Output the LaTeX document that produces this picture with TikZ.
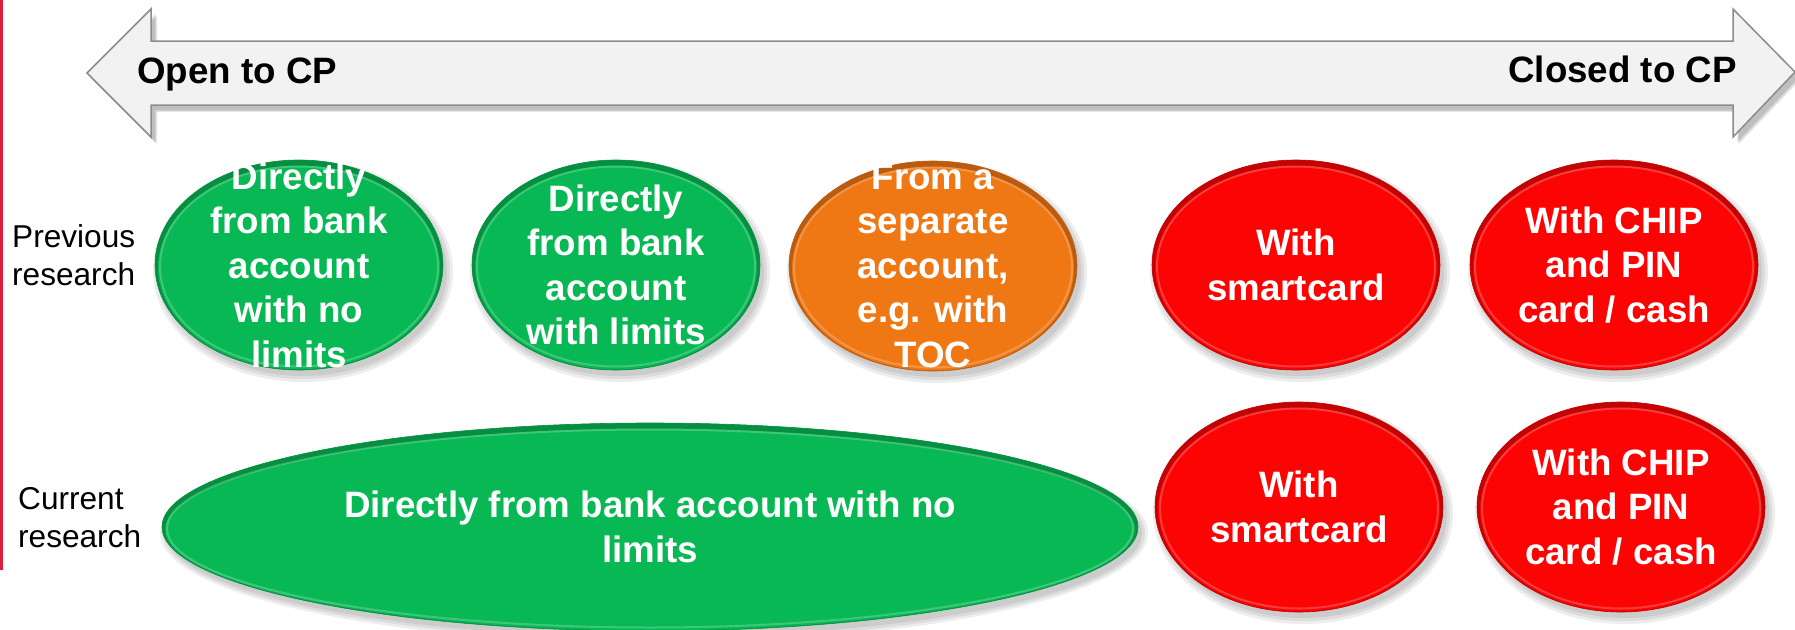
\documentclass[tikz,border=0pt]{standalone}
\usepackage{fontspec}
\setmainfont{Liberation Sans}
\usetikzlibrary{shapes.geometric}
\definecolor{bgreen}{RGB}{8,184,84}
\definecolor{borange}{RGB}{240,120,20}
\definecolor{bred}{RGB}{252,4,4}
\definecolor{sidered}{RGB}{220,30,60}
\definecolor{arrowfill}{RGB}{242,242,242}
\definecolor{arrowline}{RGB}{140,140,140}
\tikzset{
  bub/.style={ellipse, inner sep=0pt, outer sep=0pt},
  bubtext/.style={inner sep=0pt, text=white, align=center,
    font=\fontsize{36.7}{44.5}\selectfont\bfseries},
  axislabel/.style={inner sep=0pt, text=black,
    font=\fontsize{36.7}{44}\selectfont\bfseries},
  rowlabel/.style={inner sep=0pt, align=left, anchor=west, text=black,
    font=\fontsize{31.6}{38}\selectfont},
  shade/.style={black, opacity=0.07},
}
% name, x, y, rx, ry, colour, text
\newcommand\bubble[7]{%
  \foreach \d in {6,3,0}{\fill[shade] (#2+4,#3+6) ellipse [x radius=#4+\d, y radius=#5+\d];}
  \node[bub, fill=#6, draw=#6!80!black, line width=0.6pt,
    minimum width=2*#4, minimum height=2*#5,
    path picture={
      \draw[#6!50!black, line width=6pt, opacity=0.45]
        ([yshift=-2.5pt]path picture bounding box.center) ellipse [x radius=#4, y radius=#5];
      \draw[white, opacity=0.22, line width=2pt]
        ([yshift=-1.5pt]path picture bounding box.center) ellipse [x radius=#4-5, y radius=#5-5];
    }] (#1) at (#2,#3) {};
  \node[bubtext] (#1-text) at (#1.center) {#7};}

\begin{document}
\begin{tikzpicture}[x=1pt,y=-1pt]
\useasboundingbox (0,0) rectangle (1795,629);
\fill[white] (0,0) rectangle (1795,629);

% side bar
\draw[sidered, line width=3pt] (1.5,0) -- (1.5,570);

% double arrow: shadow and body
\foreach \d in {1,2,3}{
  \fill[shade, opacity=0.09] ([shift={(3+\d,4+\d)}]87,73) -- ([shift={(3+\d,4+\d)}]151,9) -- ([shift={(3+\d,4+\d)}]151,41)
    -- ([shift={(3+\d,4+\d)}]1733,41) -- ([shift={(3+\d,4+\d)}]1733,9) -- ([shift={(3+\d,4+\d)}]1795,72)
    -- ([shift={(3+\d,4+\d)}]1733,137) -- ([shift={(3+\d,4+\d)}]1733,105) -- ([shift={(3+\d,4+\d)}]151,105)
    -- ([shift={(3+\d,4+\d)}]151,137) -- cycle;}
\draw[fill=arrowfill, draw=arrowline, line width=1.5pt, line join=miter]
  (87,73) -- (151,9) -- (151,41) -- (1733,41) -- (1733,9) -- (1795,72)
  -- (1733,137) -- (1733,105) -- (151,105) -- (151,137) -- cycle;
\node[axislabel, anchor=base west] (open) at (137,83) {Open to CP};
\node[axislabel, anchor=base east] (closed) at (1737,82) {Closed to CP};

% row labels
\node[rowlabel] (prev) at (12,255) {Previous\\research};
\node[rowlabel] (curr) at (18,518) {Current\\research};

% previous research
\bubble{p1}{299}{265}{144}{105}{bgreen}{Directly\\from bank\\account\\with no\\limits}
\bubble{p2}{616}{265}{144}{105}{bgreen}{Directly\\from bank\\account\\with limits}
\bubble{p3}{933}{266}{144}{105}{borange}{From a\\separate\\account,\\e.g. with\\TOC}
\bubble{p4}{1296}{265}{144}{105}{bred}{With\\smartcard}
\bubble{p5}{1614}{265}{144}{105}{bred}{With CHIP\\and PIN\\card / cash}

% current research
\bubble{c1}{650}{527}{488}{104}{bgreen}{Directly from bank account with no\\limits}
\bubble{c2}{1299}{507}{144}{105}{bred}{With\\smartcard}
\bubble{c3}{1621}{507}{144}{105}{bred}{With CHIP\\and PIN\\card / cash}
\end{tikzpicture}
\end{document}
